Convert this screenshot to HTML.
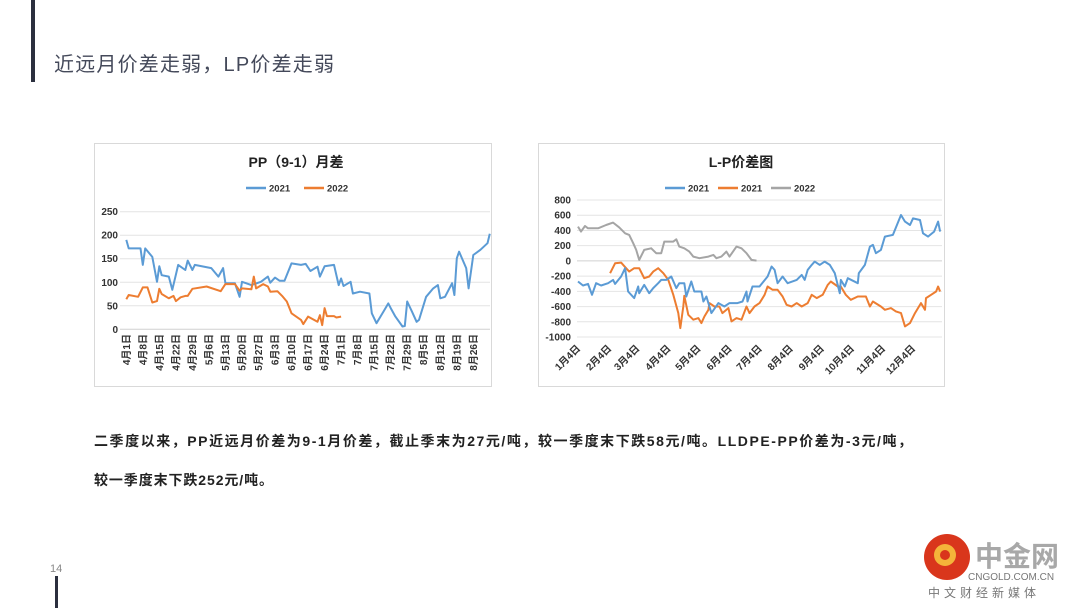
<!DOCTYPE html>
<html><head><meta charset="utf-8">
<style>
html,body{margin:0;padding:0;background:#fff;}
body{width:1080px;height:608px;overflow:hidden;position:relative;font-family:"Liberation Sans","Noto Sans CJK SC",sans-serif;}
svg text{font-family:"Liberation Sans","Noto Sans CJK SC",sans-serif;}
</style></head>
<body>
<svg id="s" width="1080" height="608" viewBox="0 0 1080 608">
<rect x="31" y="0" width="4" height="82" fill="#2b2f3e"/>
<rect x="55" y="576" width="3" height="32" fill="#2b2f3e"/>
<text x="54" y="71" font-size="20" fill="#44495a" textLength="280" lengthAdjust="spacing">近远月价差走弱，LP价差走弱</text>
<text x="50" y="572" font-size="11" fill="#888">14</text>
<text x="94" y="446" font-size="14" font-weight="bold" fill="#222" textLength="818" lengthAdjust="spacing">二季度以来，PP近远月价差为9-1月价差，截止季末为27元/吨，较一季度末下跌58元/吨。LLDPE-PP价差为-3元/吨，</text>
<text x="94" y="485" font-size="14" font-weight="bold" fill="#222" textLength="179" lengthAdjust="spacing">较一季度末下跌252元/吨。</text>

<g>
<rect x="94.5" y="143.5" width="397" height="243" fill="#fff" stroke="#d9d9d9"/>
<text x="296" y="167" font-size="14" font-weight="bold" text-anchor="middle" fill="#222">PP（9-1）月差</text>
<g id="ppg"></g>
</g>
<g>
<rect x="538.5" y="143.5" width="406" height="243" fill="#fff" stroke="#d9d9d9"/>
<text x="741" y="167" font-size="14" font-weight="bold" text-anchor="middle" fill="#222">L-P价差图</text>
<g id="lpg"></g>
</g>

<g>
<circle cx="947" cy="557" r="23" fill="#d9361c"/>
<circle cx="945" cy="555" r="11" fill="#f4b53a"/>
<circle cx="945" cy="555" r="5" fill="#d9361c"/>
<text x="975" y="566" font-size="28" font-weight="bold" fill="#a8a8a8">中金网</text>
<text x="968" y="580" font-size="10" fill="#777">CNGOLD.COM.CN</text>
<text x="928" y="597" font-size="12" fill="#777" letter-spacing="4">中文财经新媒体</text>
</g>
</svg>
<script>
// ---- PP chart data (day offset from Apr 1, value) ----
const ppTickLabels = ["4月1日","4月8日","4月15日","4月22日","4月29日","5月6日","5月13日","5月20日","5月27日","6月3日","6月10日","6月17日","6月24日","7月1日","7月8日","7月15日","7月22日","7月29日","8月5日","8月12日","8月19日","8月26日"];
const ppYTicks = [0,50,100,150,200,250];
const pp2021Days = [0,1,6,7,8,11,13,14,15,18,19.5,22,25,26,28,29,36,39,41,42,46,48,49,53,57,60,61,63,65,67,70,74,76,78,81,82,84,88,90,91,92,95,96,99,103,104,106,109,111,112,114,117,118,119,121,123,124,127,130,132,133,135,138,139,140,141,144,145,147,150,153,154];
const pp2021Vals = [190,172,172,137,172,154,101,134,115,112,84,137,126,146,126,137,130,112,130,98,98,69,101,94,101,112,99,110,103,103,140,137,139,124,133,112,134,137,94,108,92,101,76,80,76,34,13,38,55,45,27,6,7,59,38,16,20,69,87,94,66,69,98,73,151,165,130,87,158,169,183,203];
const pp2022Days = [0,1,5,7,9,11,13,14,15,18,20,21,23,25,26,28,34,40,42,46,48,49,53,54,55,58,60,61,64,66,68,70,74,75,77,81,82,83,84,85,88,89,91];
const pp2022Vals = [64,73,69,89,89,57,60,86,75,66,71,60,68,71,71,86,91,81,96,96,82,87,85,112,87,96,91,80,81,71,59,34,20,11,27,16,30,9,45,28,28,25,27];

// ---- L-P chart data (day offset from Jan 4, value) ----
const lpTickLabels = ["1月4日","2月4日","3月4日","4月4日","5月4日","6月4日","7月4日","8月4日","9月4日","10月4日","11月4日","12月4日"];
const lpTickDays = [0,31,59,90,120,151,181,212,243,273,304,334];
const lpYTicks = [800,600,400,200,0,-200,-400,-600,-800,-1000];
const lpBlueDays = [0,5,10,14,18,23,30,35,37,43,47,50,56,60,61,66,71,75,80,83,88,93,98,101,106,108,113,116,123,125,128,133,140,146,151,159,164,168,169,174,181,189,193,196,199,204,209,218,223,226,229,233,236,241,246,251,256,261,262,266,269,279,280,286,291,294,297,302,306,314,316,322,326,331,334,341,344,349,355,359,361];
const lpBlueVals = [-271,-323,-302,-446,-293,-323,-293,-249,-302,-205,-96,-402,-489,-336,-424,-315,-424,-358,-293,-249,-249,-205,-358,-293,-293,-468,-271,-402,-402,-533,-468,-686,-555,-599,-555,-555,-533,-402,-533,-336,-336,-205,-74,-118,-293,-205,-293,-249,-184,-249,-118,-52,-9,-52,-9,-52,-162,-424,-249,-336,-227,-293,-162,-52,188,210,101,144,319,341,406,603,516,472,559,537,363,319,385,516,385];
const lpOrangeDays = [32,37,43,48,51,56,61,66,71,75,80,85,90,95,100,102,105,106,110,115,120,123,126,130,131,136,141,144,150,153,158,163,168,171,176,181,186,189,194,199,204,208,213,218,223,229,233,238,244,249,252,259,262,267,272,279,287,291,294,302,306,312,317,322,326,331,336,342,346,347,352,357,359,361];
const lpOrangeVals = [-162,-31,-22,-96,-140,-96,-96,-227,-205,-140,-96,-162,-249,-446,-686,-883,-599,-459,-708,-773,-752,-817,-730,-642,-555,-599,-599,-686,-620,-795,-752,-773,-599,-686,-599,-555,-446,-336,-380,-380,-468,-577,-599,-555,-599,-555,-446,-489,-446,-315,-271,-336,-336,-446,-511,-468,-468,-599,-533,-599,-642,-620,-664,-686,-861,-817,-686,-555,-642,-489,-446,-402,-336,-402];
const lpGrayDays = [0,3,7,10,20,28,35,41,47,51,55,58,61,66,73,78,83,86,95,98,101,106,111,115,121,130,135,138,143,148,151,158,163,168,173,178];
const lpGrayVals = [450,385,459,428,428,472,503,441,363,341,232,144,13,144,166,101,101,253,253,284,188,166,122,57,35,57,79,35,57,122,57,188,166,101,13,4];

const NS="http://www.w3.org/2000/svg";
function mk(parent,tag,attrs){const e=document.createElementNS(NS,tag);for(const k in attrs)e.setAttribute(k,attrs[k]);parent.appendChild(e);return e;}
function path(xs,ys,fx,fy){return xs.map((d,i)=>(i?"L":"M")+fx(d).toFixed(1)+" "+fy(ys[i]).toFixed(1)).join(" ");}

// PP chart
(function(){
  const g=document.getElementById('ppg');
  const x=d=>126.3+d*(347/147);
  const y=v=>329.3-v*(117.6/250);
  ppYTicks.forEach(v=>{
    if(v>0){const l=mk(g,'line',{x1:120,x2:490,y1:y(v),y2:y(v),stroke:'#e4e4e4','stroke-width':1});
    
    }
    const t=mk(g,'text',{x:118,y:y(v)+3.5,'font-size':10,'font-weight':'bold','text-anchor':'end',fill:'#333'});
    t.textContent=v;
    
    
  });
  const ax=mk(g,'line',{x1:120,x2:490,y1:y(0),y2:y(0),stroke:'#d0d0d0'});
  
  
  ppTickLabels.forEach((s,i)=>{
    const xx=x(i*7);
    const t=mk(g,'text',{transform:`translate(${xx+3.5},334) rotate(-90)`,'font-size':10,'font-weight':'bold','text-anchor':'end',fill:'#333'});
    t.textContent=s;
    
    
  });
  const p1=mk(g,'path',{d:path(pp2021Days,pp2021Vals,x,y),fill:'none',stroke:'#5b9bd5','stroke-width':2,'stroke-linejoin':'round'});
  
  
  const p2=mk(g,'path',{d:path(pp2022Days,pp2022Vals,x,y),fill:'none',stroke:'#ed7d31','stroke-width':2,'stroke-linejoin':'round'});
  
  
  [[246,'#5b9bd5','2021'],[304,'#ed7d31','2022']].forEach(([lx,c,s])=>{
    const l=mk(g,'line',{x1:lx,x2:lx+20,y1:188,y2:188,stroke:c,'stroke-width':2.5});
    
    
    const t=mk(g,'text',{x:lx+23,y:191.5,'font-size':9.5,'font-weight':'bold',fill:'#333'});
    t.textContent=s;
    
    
  });
})();

// L-P chart
(function(){
  const g=document.getElementById('lpg');
  const x=d=>578+d*(335/334);
  const y=v=>260.9-v*(137/1800);
  lpYTicks.forEach(v=>{
    const l=mk(g,'line',{x1:577,x2:942,y1:y(v),y2:y(v),stroke:v===0?'#d0d0d0':'#e4e4e4','stroke-width':1});
    
    
    const t=mk(g,'text',{x:571,y:y(v)+3.5,'font-size':10,'font-weight':'bold','text-anchor':'end',fill:'#333'});
    t.textContent=v;
    
    
  });
  lpTickLabels.forEach((s,i)=>{
    const xx=x(lpTickDays[i]);
    const t=mk(g,'text',{transform:`translate(${xx+3},349) rotate(-45)`,'font-size':10,'font-weight':'bold','text-anchor':'end',fill:'#333'});
    t.textContent=s;
    
    
  });
  const pg=mk(g,'path',{d:path(lpGrayDays,lpGrayVals,x,y),fill:'none',stroke:'#a5a5a5','stroke-width':2,'stroke-linejoin':'round'});
  
  
  const po=mk(g,'path',{d:path(lpOrangeDays,lpOrangeVals,x,y),fill:'none',stroke:'#ed7d31','stroke-width':2,'stroke-linejoin':'round'});
  
  
  const pb=mk(g,'path',{d:path(lpBlueDays,lpBlueVals,x,y),fill:'none',stroke:'#5b9bd5','stroke-width':2,'stroke-linejoin':'round'});
  
  
  [[665,'#5b9bd5','2021'],[718,'#ed7d31','2021'],[771,'#a5a5a5','2022']].forEach(([lx,c,s])=>{
    const l=mk(g,'line',{x1:lx,x2:lx+20,y1:188,y2:188,stroke:c,'stroke-width':2.5});
    
    
    const t=mk(g,'text',{x:lx+23,y:191.5,'font-size':9.5,'font-weight':'bold',fill:'#333'});
    t.textContent=s;
    
    
  });
})();
</script>
</body></html>
